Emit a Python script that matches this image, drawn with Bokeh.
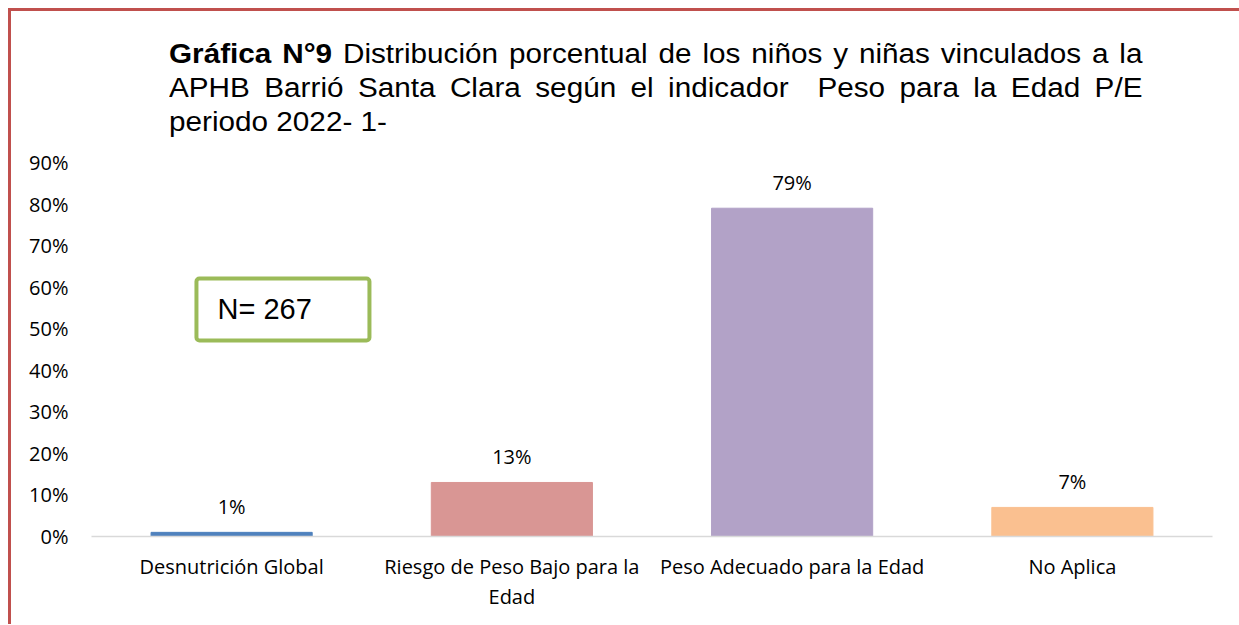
from bokeh.plotting import figure
from bokeh.models import (Div, FixedTicker, NumeralTickFormatter, BoxAnnotation,
                          Label, ColumnDataSource, CategoricalAxis, FactorRange)
from bokeh.layouts import column, row
from bokeh.core.properties import value
from bokeh.embed import file_html
from bokeh.resources import INLINE

# ---- data ----
categories = ["Desnutrición Global", "Riesgo de Peso Bajo para la Edad",
              "Peso Adecuado para la Edad", "No Aplica"]
label_line1 = ["Desnutrición Global", "Riesgo de Peso Bajo para la",
               "Peso Adecuado para la Edad", "No Aplica"]
label_line2 = [" ", "Edad", "  ", "   "]
percentages = [0.01, 0.13, 0.79, 0.07]
bar_colors = ["#4f81bd", "#d99694", "#b2a2c7", "#fac090"]
y_ticks = [0.0, 0.1, 0.2, 0.3, 0.4, 0.5, 0.6, 0.7, 0.8, 0.9]
n_text = "N= 267"
title_line1 = "<b>Gráfica N°9</b> Distribución porcentual de los niños y niñas vinculados a la"
title_line2 = "APHB Barrió Santa Clara según el indicador&nbsp; Peso para la Edad P/E"
title_line3 = "periodo 2022- 1-"

label_font = "Open Sans"
label_size = "20px"
border_red = "#c0504d"

src = ColumnDataSource(dict(
    cat=categories,
    val=percentages,
    color=bar_colors,
    txt=[f"{round(v * 100)}%" for v in percentages],
))

title_html = (
    f'<div style="box-sizing:border-box;width:1231px;height:131px;'
    f'border-top:3px solid {border_red};border-left:3px solid {border_red};'
    'padding-top:26px;padding-left:158px;margin:0;">'
    '<div style="box-sizing:content-box;width:885px;transform:scaleX(1.1);transform-origin:0 0;'
    'font-family:\'Liberation Sans\',Arial,sans-serif;font-size:27px;line-height:34px;color:#000;">'
    f'<div style="text-align:justify;text-align-last:justify;">{title_line1}</div>'
    f'<div style="text-align:justify;text-align-last:justify;">{title_line2}</div>'
    f'<div style="text-align:left;">{title_line3}</div>'
    '</div></div>'
)
title_div = Div(text=title_html, width=1231, height=131, margin=0)

strip = Div(text=f'<div style="width:3px;height:485px;background:{border_red};"></div>',
            width=3, height=485, margin=0)

p = figure(x_range=FactorRange(factors=categories, range_padding=0),
           y_range=(0, 0.9), width=1228, height=485,
           output_backend="svg", toolbar_location=None, x_axis_location=None,
           min_border_left=80, min_border_right=27, min_border_top=23,
           min_border_bottom=88, margin=0)
p.extra_x_ranges = {
    "line1": FactorRange(factors=label_line1, range_padding=0),
    "line2": FactorRange(factors=label_line2, range_padding=0),
}

p.vbar(x="cat", top="val", width=0.575, color="color", source=src)
p.text(x="cat", y="val", text="txt", source=src, y_offset=-26,
       text_align="center", text_baseline="middle",
       text_font=value(label_font), text_font_size=label_size, text_color="#000000")

p.outline_line_color = None
p.xgrid.grid_line_color = None
p.ygrid.grid_line_color = None
p.background_fill_color = "white"
p.border_fill_color = "white"

p.yaxis.ticker = FixedTicker(ticks=y_ticks)
p.yaxis.formatter = NumeralTickFormatter(format="0%")
p.yaxis.axis_line_color = None
p.yaxis.major_tick_line_color = None
p.yaxis.major_tick_out = 0
p.yaxis.major_tick_in = 0
p.yaxis.minor_tick_line_color = None
p.yaxis.major_label_standoff = 23
p.yaxis.major_label_text_font = label_font
p.yaxis.major_label_text_font_size = label_size
p.yaxis.major_label_text_color = "#000000"

common = dict(major_tick_line_color=None, minor_tick_line_color=None,
              major_tick_out=0, major_tick_in=0,
              major_label_text_font=label_font,
              major_label_text_font_size=label_size,
              major_label_text_color="#000000")
ax1 = CategoricalAxis(x_range_name="line1", axis_line_color="#d9d9d9",
                      axis_line_width=1.5, major_label_standoff=16, **common)
ax2 = CategoricalAxis(x_range_name="line2", axis_line_color=None,
                      major_label_standoff=0, **common)
p.add_layout(ax1, "below")
p.add_layout(ax2, "below")

# N box annotation
box = BoxAnnotation(left=0.3745, right=0.9918, bottom=0.4716, top=0.6207,
                    fill_color="white", fill_alpha=1.0,
                    line_color="#9bbb59", line_alpha=1.0, line_width=4,
                    border_radius=3)
p.add_layout(box)
p.add_layout(Label(x=0.4496, y=0.5486, text=n_text, text_baseline="middle",
                   text_align="left", text_font="Liberation Sans",
                   text_font_size="29px", text_color="#000000"))

layout = column(title_div, row(strip, p, margin=0), margin=(8, 0, 0, 8))

open("out.html", "w").write(file_html(layout, INLINE))
